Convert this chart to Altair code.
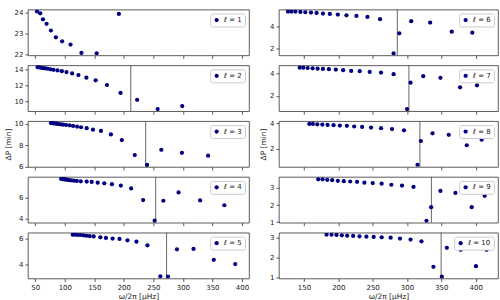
import altair as alt
import pandas as pd

# ---- data ----
ells = [1, 2, 3, 4, 5, 6, 7, 8, 9, 10]

x_l1 = [52.9, 58.4, 63.0, 69.2, 76.5, 84.9, 95.5, 109.7, 128.2, 154.0, 191.6]
y_l1 = [24.06, 23.97, 23.68, 23.46, 23.14, 22.81, 22.62, 22.46, 22.06, 22.04, 23.94]

x_l2 = [54.0, 56.8, 60.2, 63.6, 67.5, 71.4, 75.9, 81.0, 87.7, 95.0, 102.9, 112.4, 123.1,
        136.6, 152.3, 171.4, 194.4, 222.5, 257.3, 298.9]
y_l2 = [14.33, 14.29, 14.25, 14.20, 14.17, 14.13, 14.06, 14.00, 13.92, 13.83, 13.71, 13.54,
        13.33, 13.00, 12.67, 12.08, 11.08, 10.21, 9.04, 9.42]

x_l3 = [76.5, 78.7, 81.0, 83.2, 86.0, 89.4, 93.3, 97.2, 102.2, 108.0, 114.0, 120.8, 127.5,
        137.1, 147.7, 161.2, 178.1, 196.6, 218.5, 239.4, 263.5, 298.4, 342.7]
y_l3 = [10.06, 10.06, 10.03, 10.03, 10.00, 9.97, 9.94, 9.91, 9.88, 9.85, 9.79, 9.73, 9.67,
        9.58, 9.45, 9.33, 9.00, 8.48, 7.09, 6.18, 7.58, 7.30, 7.03]

x_l4 = [93.8, 96.1, 98.4, 100.6, 103.4, 106.8, 110.7, 115.2, 120.3, 127.0, 137.1, 145.6,
        155.7, 166.9, 179.8, 194.9, 212.4, 232.7, 252.2, 266.9, 292.7, 329.2, 370.2]
y_l4 = [7.80, 7.80, 7.76, 7.76, 7.73, 7.70, 7.67, 7.64, 7.61, 7.58, 7.55, 7.52, 7.45, 7.39,
        7.30, 7.17, 6.90, 5.78, 3.81, 5.72, 6.52, 5.75, 5.29]

x_l5 = [113.5, 117.4, 122.0, 126.4, 131.5, 136.6, 142.2, 148.9, 160.2, 169.7, 181.0, 192.7,
        206.2, 221.4, 240.0, 261.8, 274.8, 290.0, 318.0, 352.3, 388.7]
y_l5 = [6.33, 6.33, 6.31, 6.31, 6.28, 6.25, 6.23, 6.20, 6.13, 6.08, 6.03, 6.00, 5.90, 5.79,
        5.51, 3.10, 3.08, 5.20, 5.23, 4.38, 4.05]

x_l6 = [126.8, 131.7, 137.5, 144.8, 152.0, 160.2, 168.4, 177.6, 187.7, 199.3, 211.9, 226.4,
        242.4, 260.8, 280.5, 288.8, 306.2, 333.7, 365.2, 395.1]
y_l6 = [5.30, 5.30, 5.30, 5.27, 5.24, 5.21, 5.18, 5.12, 5.09, 5.03, 4.97, 4.91, 4.82, 4.62,
        1.55, 3.35, 4.44, 4.32, 3.50, 3.41]

x_l7 = [143.8, 149.1, 155.4, 162.6, 169.9, 177.6, 186.3, 196.4, 207.1, 218.7, 231.2, 245.7,
        262.2, 280.5, 300.0, 305.2, 323.6, 348.7, 377.3, 401.9]
y_l7 = [4.53, 4.53, 4.50, 4.47, 4.44, 4.42, 4.39, 4.36, 4.30, 4.24, 4.21, 4.15, 4.09, 3.94,
        0.81, 3.18, 3.77, 3.62, 2.76, 2.94]

x_l8 = [157.8, 163.0, 169.4, 176.7, 184.4, 193.1, 202.2, 212.4, 223.1, 234.7, 247.7, 262.2,
        278.2, 295.6, 315.3, 320.2, 337.1, 360.8, 387.0, 408.7]
y_l8 = [3.95, 3.95, 3.92, 3.90, 3.87, 3.85, 3.82, 3.80, 3.75, 3.72, 3.67, 3.62, 3.55, 3.45,
        0.77, 2.62, 3.22, 3.10, 2.29, 2.72]

x_l9 = [170.8, 177.1, 183.9, 191.1, 199.3, 208.0, 217.3, 227.4, 238.0, 250.1, 263.1, 277.2,
        292.7, 309.5, 328.4, 335.2, 348.7, 370.5, 394.2, 413.1]
y_l9 = [3.51, 3.51, 3.48, 3.46, 3.42, 3.40, 3.38, 3.36, 3.31, 3.29, 3.25, 3.19, 3.14, 3.06,
        1.08, 1.88, 2.83, 2.71, 1.88, 2.54]

x_l10 = [182.9, 190.2, 197.4, 205.1, 212.9, 221.6, 230.8, 240.9, 251.5, 263.1, 276.2, 289.8,
         305.2, 321.1, 338.5, 350.7, 358.0, 378.2, 400.4, 415.9]
y_l10 = [3.13, 3.13, 3.12, 3.10, 3.08, 3.07, 3.05, 3.03, 3.02, 3.00, 2.98, 2.94, 2.89, 2.80,
         1.54, 1.05, 2.48, 2.38, 1.57, 2.38]

xs_all = [x_l1, x_l2, x_l3, x_l4, x_l5, x_l6, x_l7, x_l8, x_l9, x_l10]
ys_all = [y_l1, y_l2, y_l3, y_l4, y_l5, y_l6, y_l7, y_l8, y_l9, y_l10]

vlines = [None, 211.8, 237.0, 253.9, 272.4, 285.9, 302.8, 318.8, 335.5, 349.7]

y_domains = [[21.94, 24.15], [8.78, 14.56], [5.99, 10.24], [3.62, 8.0], [2.93, 6.49],
             [1.38, 5.48], [0.62, 4.74], [0.60, 4.17], [0.97, 3.65], [0.96, 3.23]]
y_ticks = [[22, 23, 24], [10, 12, 14], [6, 8, 10], [4, 6], [4, 6],
           [2, 4], [2, 4], [2, 4], [1, 2, 3], [1, 2, 3]]

x_left_domain = [37.5, 412]
x_left_ticks = [50, 100, 150, 200, 250, 300, 350, 400]
x_right_domain = [113.5, 432.5]
x_right_ticks = [150, 200, 250, 300, 350, 400]

x_title = "ω/2π [μHz]"
y_title = "ΔP [min]"

NAVY = "#000080"
H = 46


def panel(i):
    ell = ells[i]
    left = i < 5
    bottom = (i % 5) == 4
    xdom = x_left_domain if left else x_right_domain
    xt = x_left_ticks if left else x_right_ticks
    w = 222 if left else 220
    df = pd.DataFrame({"x": xs_all[i], "y": ys_all[i], "lab": f"ℓ = {ell}"})
    if bottom:
        xaxis = alt.Axis(values=xt, title=x_title, orient="bottom")
    else:
        xaxis = alt.Axis(values=xt, labels=False, title=None, orient="bottom")
    yaxis = alt.Axis(values=y_ticks[i], title=y_title if (i % 5) == 2 else None)
    xscale = alt.Scale(domain=xdom, nice=False, zero=False)
    pts = alt.Chart(df).mark_circle(size=18, opacity=1, clip=True).encode(
        x=alt.X("x:Q", scale=xscale, axis=xaxis),
        y=alt.Y("y:Q", scale=alt.Scale(domain=y_domains[i], nice=False, zero=False), axis=yaxis),
        color=alt.Color("lab:N", scale=alt.Scale(range=[NAVY]),
                        legend=alt.Legend(title=None, orient="top-right")),
    )
    layers = [pts]
    if vlines[i] is not None:
        rdf = pd.DataFrame({"x": [vlines[i]]})
        rule = alt.Chart(rdf).mark_rule(color="#555555", strokeWidth=0.9).encode(
            x=alt.X("x:Q", scale=xscale, axis=xaxis)
        )
        layers = [rule, pts]
    return alt.layer(*layers).properties(width=w, height=H)


# grid order: row by row, left column then right column
order = [0, 5, 1, 6, 2, 7, 3, 8, 4, 9]
chart = alt.concat(
    *[panel(i) for i in order], columns=2, bounds="flush",
    spacing={"row": 10, "column": 30}
).resolve_scale(
    x="independent", y="independent", color="independent"
).properties(
    padding={"left": 3, "top": 7, "right": 1, "bottom": 0}
).configure(
    font="DejaVu Sans"
).configure_view(
    stroke="#333333", strokeWidth=0.8
).configure_axis(
    grid=False, domain=False, ticks=True, tickSize=3, tickColor="#333333", tickWidth=0.8,
    labelFontSize=7, labelColor="#222222", labelPadding=2,
    titleFontSize=7.5, titleFontWeight="normal", titleColor="#222222", titlePadding=2,
    labelFont="DejaVu Sans", titleFont="DejaVu Sans"
).configure_legend(
    labelFontSize=7, labelColor="#222222", symbolSize=18, symbolStrokeWidth=0,
    padding=3, offset=4, strokeColor="#cccccc", fillColor="white", cornerRadius=2,
    labelFont="DejaVu Sans", rowPadding=0
)

chart.save("out.html", embed_options={"renderer": "svg", "actions": False})
